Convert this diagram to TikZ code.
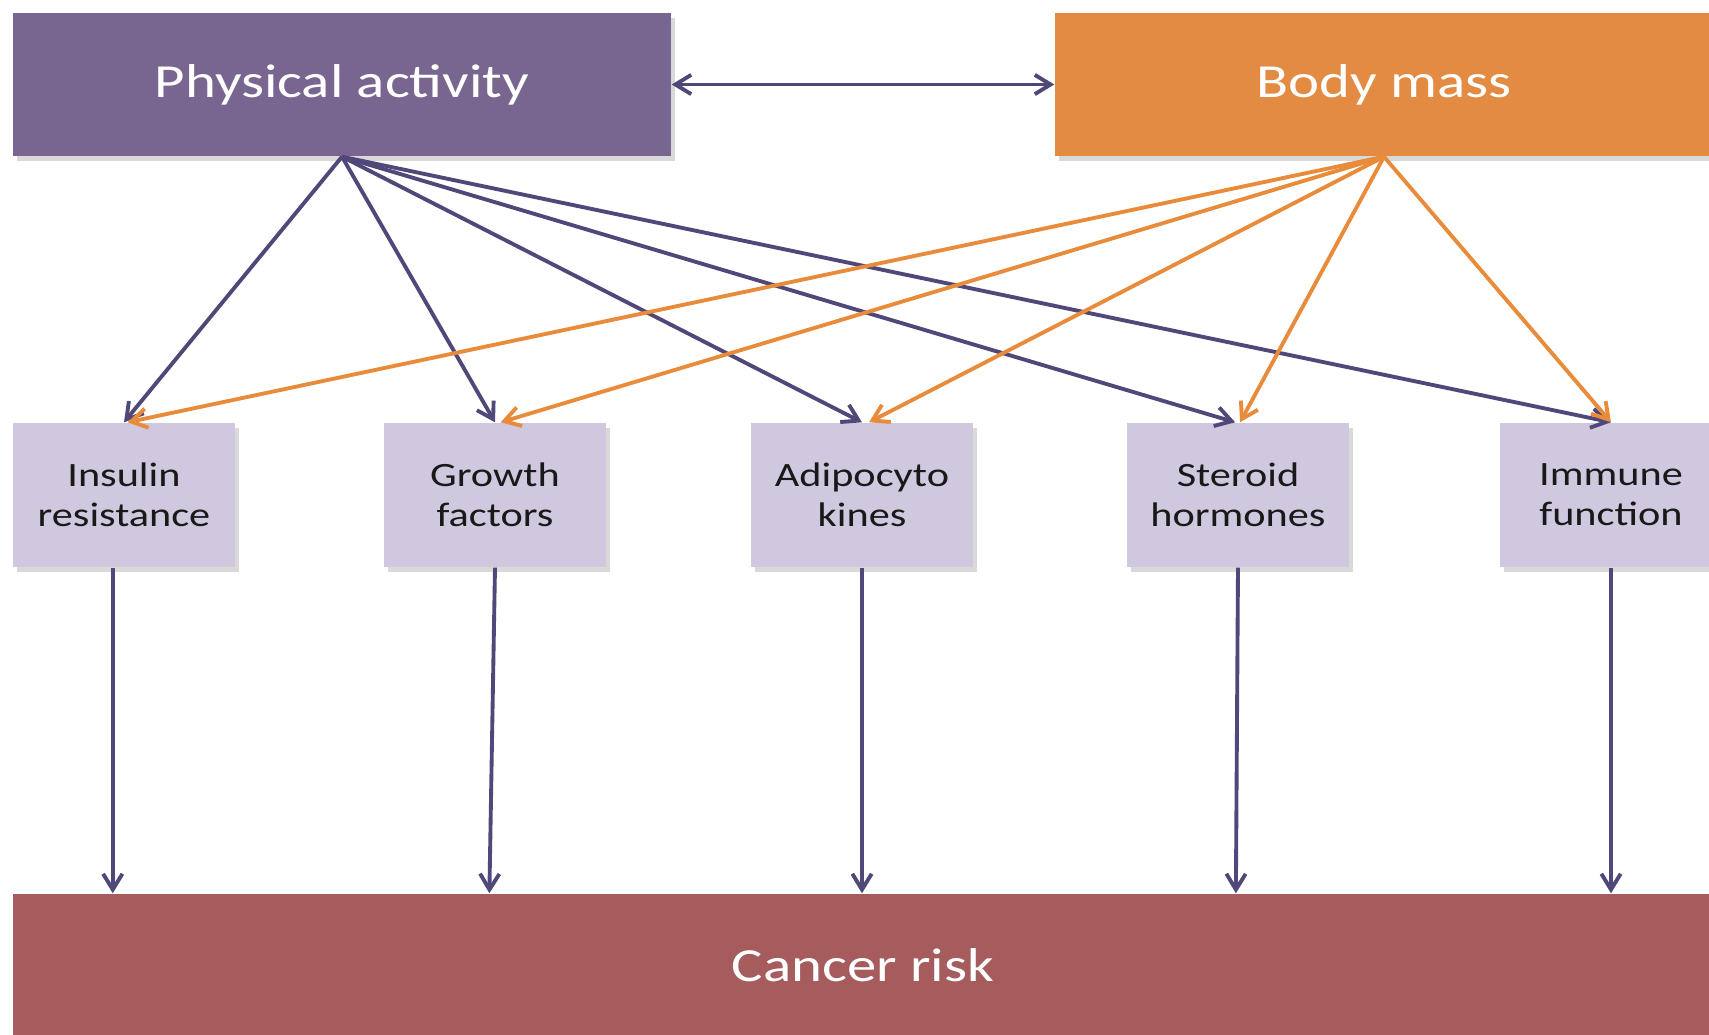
\documentclass[tikz,border=0pt]{standalone}
\usepackage{fontspec}
\setmainfont{Carlito}[FakeStretch=1.24]
\usetikzlibrary{arrows.meta,shadows}

\definecolor{actviolet}{HTML}{786690}
\definecolor{massorange}{HTML}{E38B42}
\definecolor{factorlilac}{HTML}{CFC8DF}
\definecolor{riskred}{HTML}{A65C5D}
\definecolor{linkviolet}{HTML}{51487A}
\definecolor{linkorange}{HTML}{E88C3C}

\tikzset{
	topbox/.style={minimum width=6.58cm, minimum height=1.43cm, inner sep=0pt, text=white,
		font=\fontsize{13.5}{16}\selectfont,
		drop shadow={shadow xshift=1pt, shadow yshift=-1.5pt, opacity=0.3}},
	factorbox/.style={fill=factorlilac, minimum width=2.22cm, minimum height=1.44cm, inner sep=0pt,
		align=center, text=black!90, font=\fontsize{9.7}{11.4}\selectfont,
		drop shadow={shadow xshift=1pt, shadow yshift=-1.5pt, opacity=0.3}},
	vlink/.style={draw=linkviolet, line width=1.1pt, -{Straight Barb[length=4.5pt,width=5.5pt]}},
	olink/.style={draw=linkorange, line width=1.1pt, -{Straight Barb[length=4.5pt,width=5.5pt]}}
}

\begin{document}
\begin{tikzpicture}[x=0.1mm,y=-0.1mm]
	\useasboundingbox (0,0) rectangle (1709,1035);

	\node [topbox, fill=actviolet] (act) at (342,84.5) {Physical activity};
	\node [topbox, fill=massorange] (mass) at (1384,84.5) {Body mass};

	\draw [vlink, {Straight Barb[length=4.5pt,width=5.5pt]}-{Straight Barb[length=4.5pt,width=5.5pt]}] (act.east) -- (mass.west);

	\node [factorbox] (ins) at (124,495) {Insulin\\resistance};
	\node [factorbox] (gro) at (495,495) {Growth\\factors};
	\node [factorbox] (adi) at (862,495) {Adipocyto\\kines};
	\node [factorbox] (ste) at (1238,495) {Steroid\\hormones};
	\node [factorbox] (imm) at (1611,495) {Immune\\function};

	\node [fill=riskred, minimum width=17cm, minimum height=1.42cm, inner sep=0pt, text=white,
		font=\fontsize{13.5}{16}\selectfont] (risk) at (863,965) {Cancer risk};

	% physical activity
	\draw [vlink] (act.south) -- (ins.north);
	\draw [vlink] (act.south) -- (gro.north);
	\draw [vlink] (act.south) -- (adi.north);
	\draw [vlink] (act.south) -- ([xshift=-0.8pt]ste.north);
	\draw [vlink] (act.south) -- (imm.north);

	% body mass
	\draw [olink] (mass.south) -- ([xshift=1pt]ins.north);
	\draw [olink] (mass.south) -- ([xshift=1.6pt]gro.north);
	\draw [olink] (mass.south) -- ([xshift=2pt]adi.north);
	\draw [olink] (mass.south) -- ([xshift=0.6pt]ste.north);
	\draw [olink] (mass.south) -- (imm.north);

	% to cancer risk
	\draw [vlink] ([xshift=-3.2pt]ins.south) -- ([xshift=-3.2pt]ins.south |- risk.north);
	\draw [vlink] (gro.south) -- ([xshift=-1.6pt]gro.south |- risk.north);
	\draw [vlink] (adi.south) -- (adi.south |- risk.north);
	\draw [vlink] (ste.south) -- ([xshift=-0.6pt]ste.south |- risk.north);
	\draw [vlink] (imm.south) -- (imm.south |- risk.north);
\end{tikzpicture}
\end{document}
